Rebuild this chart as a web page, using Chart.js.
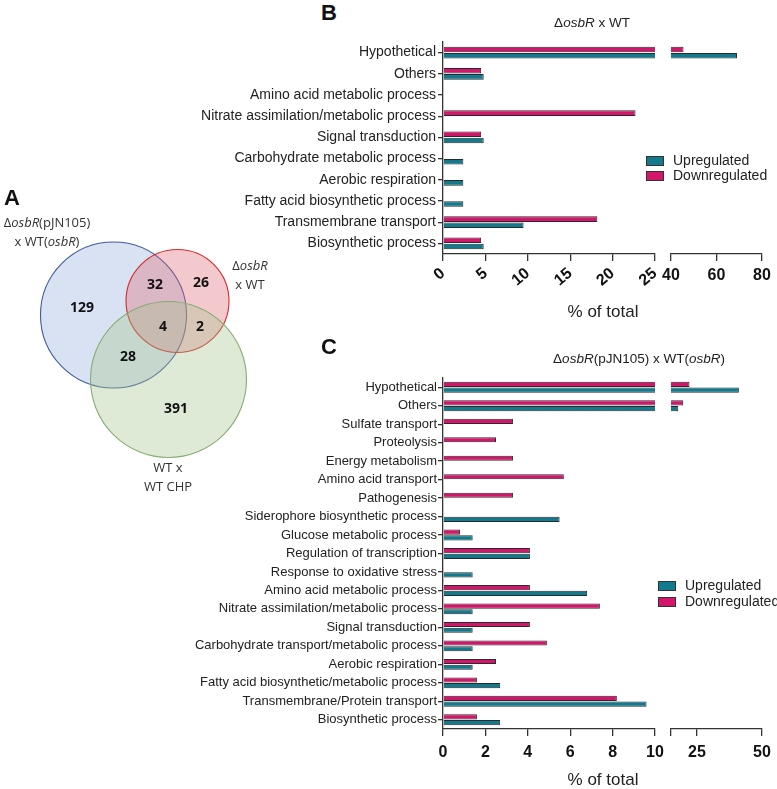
<!DOCTYPE html>
<html>
<head>
<meta charset="utf-8">
<script src="https://cdn.jsdelivr.net/npm/chart.js@4.4.0/dist/chart.umd.min.js"></script>
<style>
  body { margin: 0; background: #fff; width: 777px; height: 789px; position: relative; overflow: hidden;
         font-family: "Liberation Sans", Arial, sans-serif; color: #222; }
  canvas { position: absolute; }
  .t { position: absolute; white-space: nowrap; transform: translate(-50%, -50%); }
  .v { font-family: "Open Sans", sans-serif; font-size: 13px; color: #333; text-align: center; line-height: 19px; }
  .letter { font-weight: bold; font-size: 22px; color: #111; }
  .title { font-size: 13.5px; color: #222; }
  .axt { font-size: 17px; color: #222; }
  .leg { position: absolute; font-size: 14px; color: #222; white-space: nowrap; }
  .leg i { position: absolute; width: 16px; height: 8px; border: 1px solid #333; }
</style>
</head>
<body>
<canvas id="venn" width="420" height="500" style="left:-80px;top:100px"></canvas>
<canvas id="bLeft" width="480" height="300" style="left:190px;top:30px"></canvas>
<canvas id="bRight" width="117" height="300" style="left:660px;top:30px"></canvas>
<canvas id="cLeft" width="480" height="424" style="left:190px;top:365px"></canvas>
<canvas id="cRight" width="117" height="424" style="left:660px;top:365px"></canvas>

<div class="t letter" style="left:12px;top:198px">A</div>
<div class="t letter" style="left:329px;top:13px">B</div>
<div class="t letter" style="left:329px;top:347px">C</div>

<div class="t v" style="left:47px;top:232px">Δ<i>osbR</i>(pJN105)<br>x WT(<i>osbR</i>)</div>
<div class="t v" style="left:250px;top:275px">Δ<i>osbR</i><br>x WT</div>
<div class="t v" style="left:168px;top:477px">WT x<br>WT CHP</div>

<div class="t title" style="left:592px;top:22px">Δ<i>osbR</i> x WT</div>
<div class="t title" style="left:639px;top:358px">Δ<i>osbR</i>(pJN105) x WT(<i>osbR</i>)</div>

<div class="t axt" style="left:603px;top:312px">% of total</div>
<div class="t axt" style="left:603px;top:780px">% of total</div>

<div class="leg" style="left:646px;top:152px"><i style="background:#13798c;left:0;top:4px"></i><span style="margin-left:27px">Upregulated</span></div>
<div class="leg" style="left:646px;top:167px"><i style="background:#d3156b;left:0;top:4px"></i><span style="margin-left:27px">Downregulated</span></div>
<div class="leg" style="left:658px;top:577px"><i style="background:#13798c;left:0;top:4px"></i><span style="margin-left:27px">Upregulated</span></div>
<div class="leg" style="left:658px;top:593px"><i style="background:#d3156b;left:0;top:4px"></i><span style="margin-left:27px">Downregulated</span></div>

<script>
// Panel B: ΔosbR x WT (% of total)
const bCats = ['Hypothetical', 'Others', 'Amino acid metabolic process', 'Nitrate assimilation/metabolic process',
  'Signal transduction', 'Carbohydrate metabolic process', 'Aerobic respiration',
  'Fatty acid biosynthetic process', 'Transmembrane transport', 'Biosynthetic process'];
const bUp   = [69.0, 4.8, null, null, 4.8, 2.4, 2.4, 2.4, 9.5, 4.8];
const bDown = [45.5, 4.5, null, 22.7, 4.5, null, null, null, 18.2, 4.5];
const bLeftTicks = [0, 5, 10, 15, 20, 25];
const bRightTicks = [40, 60, 80];

// Panel C: ΔosbR(pJN105) x WT(osbR)
const cCats = ['Hypothetical', 'Others', 'Sulfate transport', 'Proteolysis', 'Energy metabolism',
  'Amino acid transport', 'Pathogenesis', 'Siderophore biosynthetic process', 'Glucose metabolic process',
  'Regulation of transcription', 'Response to oxidative stress', 'Amino acid metabolic process',
  'Nitrate assimilation/metabolic process', 'Signal transduction', 'Carbohydrate transport/metabolic process',
  'Aerobic respiration', 'Fatty acid biosynthetic/metabolic process', 'Transmembrane/Protein transport',
  'Biosynthetic process'];
const cUp   = [41.1, 17.8, null, null, null, null, null, 5.5, 1.4, 4.1, 1.4, 6.8, 1.4, 1.4, 1.4, 1.4, 2.7, 9.6, 2.7];
const cDown = [22.1, 19.7, 3.3, 2.5, 3.3, 5.7, 3.3, null, 0.8, 4.1, null, 4.1, 7.4, 4.1, 4.9, 2.5, 1.6, 8.2, 1.6];
const cLeftTicks = [0, 2, 4, 6, 8, 10];
const cRightTicks = [15, 25, 50];
const cRightLabels = ['', '25', '50'];

// Panel A: Venn diagram
const vennCx = [113.5, 177.5, 168.5];
const vennCy = [135, 121, 199.5];
const vennR  = [73, 51.5, 78];
const vennFill = ['rgba(146,172,221,0.35)', 'rgba(222,92,102,0.33)', 'rgba(164,194,138,0.35)'];
const vennEdge = ['#3f5c9c', '#d22a2a', '#86ad72'];
const vennCounts = ['129', '32', '26', '4', '2', '28', '391'];
const countX = [82, 155, 201, 163, 200, 128, 176];
const countY = [128, 105, 103, 147, 147, 177, 229];

const PINK = '#d3156b';
const TEAL = '#13798c';
const EDGE = '#2a2a2a';
const AXIS = '#333';

Chart.defaults.font.family = '"Liberation Sans", Arial, sans-serif';

function makeBar(id, cats, up, down, ticks, labels, o) {
  const yScale = {
    display: o.showY,
    grid: { drawOnChartArea: false, offset: false, tickLength: 5, color: AXIS, lineWidth: 1.3 },
    border: { color: AXIS, width: 1.3 },
    ticks: { color: '#222', font: { size: o.catSize }, padding: o.catPad, autoSkip: false }
  };
  if (o.showY) yScale.afterFit = s => { s.width = o.yWidth; };

  return new Chart(document.getElementById(id), {
    type: 'bar',
    data: {
      labels: cats,
      datasets: [
        { label: 'Downregulated', data: down, backgroundColor: PINK, borderColor: EDGE, borderWidth: 1,
          clip: 0, barPercentage: 0.9, categoryPercentage: o.catPct },
        { label: 'Upregulated', data: up, backgroundColor: TEAL, borderColor: EDGE, borderWidth: 1,
          clip: 0, barPercentage: 0.9, categoryPercentage: o.catPct }
      ]
    },
    options: {
      indexAxis: 'y',
      responsive: false,
      animation: false,
      events: [],
      layout: { padding: { left: o.padLeft, right: o.padRight, top: o.padTop, bottom: 0 } },
      plugins: { legend: { display: false }, tooltip: { enabled: false } },
      scales: {
        y: yScale,
        x: {
          min: ticks[0],
          max: ticks[ticks.length - 1],
          grid: { drawOnChartArea: false, tickLength: 7, color: AXIS, lineWidth: 1.3 },
          border: { color: AXIS, width: 1.3 },
          afterBuildTicks: s => { s.ticks = ticks.map(v => ({ value: v })); },
          ticks: {
            autoSkip: false, minRotation: o.rot, maxRotation: o.rot, padding: o.tickPad,
            color: '#111', font: { size: 16, weight: 'bold' },
            callback: (v, i) => labels[i]
          },
          afterFit: s => { s.height = o.xHeight; s.paddingLeft = 0; s.paddingRight = 0; }
        }
      }
    }
  });
}

// B
makeBar('bLeft', bCats, bUp, bDown, bLeftTicks, bLeftTicks.map(String),
  { showY: true, yWidth: 253, catSize: 14, catPad: 2, catPct: 0.58, padLeft: 0, padRight: 15, padTop: 12,
    rot: 40, tickPad: 3, xHeight: 76 });
makeBar('bRight', bCats, bUp, bDown, bRightTicks, bRightTicks.map(String),
  { showY: false, catSize: 14, catPad: 2, catPct: 0.58, padLeft: 11, padRight: 15, padTop: 12,
    rot: 0, tickPad: 5, xHeight: 76 });

// C
makeBar('cLeft', cCats, cUp, cDown, cLeftTicks, cLeftTicks.map(String),
  { showY: true, yWidth: 253, catSize: 13, catPad: 1, catPct: 0.62, padLeft: 0, padRight: 15, padTop: 13,
    rot: 0, tickPad: 7, xHeight: 60 });
makeBar('cRight', cCats, cUp, cDown, cRightTicks, cRightLabels,
  { showY: false, catSize: 13, catPad: 1, catPct: 0.62, padLeft: 11, padRight: 15, padTop: 13,
    rot: 0, tickPad: 7, xHeight: 60 });

// A
const countsPlugin = {
  id: 'vennCounts',
  afterDatasetsDraw(chart) {
    const { ctx, scales } = chart;
    ctx.save();
    ctx.font = 'bold 14px "Open Sans", sans-serif';
    ctx.fillStyle = '#111';
    ctx.textAlign = 'center';
    ctx.textBaseline = 'middle';
    vennCounts.forEach((c, i) => {
      ctx.fillText(c, scales.x.getPixelForValue(countX[i]), scales.y.getPixelForValue(countY[i]));
    });
    ctx.restore();
  }
};

// bubble charts pad the chart area by the largest radius, so pad 80 on a wider canvas
new Chart(document.getElementById('venn'), {
  type: 'bubble',
  data: {
    datasets: [{
      data: vennCx.map((x, i) => ({ x: x, y: vennCy[i], r: vennR[i] })),
      backgroundColor: vennFill,
      borderColor: vennEdge,
      borderWidth: 1.1,
      clip: false
    }]
  },
  options: {
    responsive: false,
    animation: false,
    events: [],
    layout: { padding: 80 },
    plugins: { legend: { display: false }, tooltip: { enabled: false } },
    scales: {
      x: { display: false, min: 0, max: 260 },
      y: { display: false, min: 0, max: 340, reverse: true }
    }
  },
  plugins: [countsPlugin]
});
</script>
</body>
</html>
